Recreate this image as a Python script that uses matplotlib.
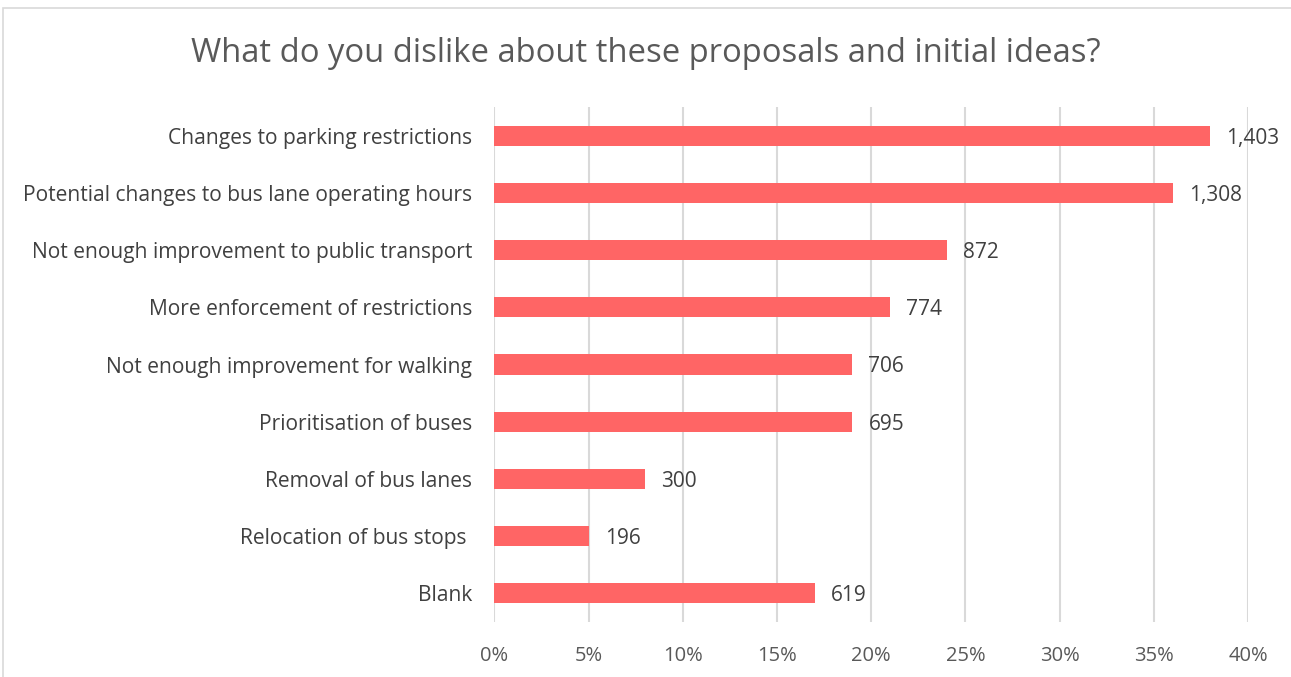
import matplotlib
matplotlib.use("Agg")
import matplotlib.pyplot as plt
from matplotlib.patches import Rectangle
from matplotlib.ticker import FuncFormatter

categories = [
    "Changes to parking restrictions",
    "Potential changes to bus lane operating hours",
    "Not enough improvement to public transport",
    "More enforcement of restrictions",
    "Not enough improvement for walking",
    "Prioritisation of buses",
    "Removal of bus lanes",
    "Relocation of bus stops ",
    "Blank",
]
percentages = [38, 36, 24, 21, 19, 19, 8, 5, 17]
counts = [1403, 1308, 872, 774, 706, 695, 300, 196, 619]
x_ticks = [0, 5, 10, 15, 20, 25, 30, 35, 40]

plt.rcParams['font.family'] = ['Open Sans', 'DejaVu Sans']

W, H = 1291, 677
fig = plt.figure(figsize=(W / 100, H / 100), dpi=100)
fig.patches.append(Rectangle((3 / W, -0.1), 1.2, 1 - 8 / H + 0.1, transform=fig.transFigure,
                             fill=False, edgecolor='#D9D9D9', linewidth=1.2))
ax = fig.add_axes([494.5 / W, 1 - 622 / H, (1248 - 494.5) / W, (622 - 107) / H])

ypos = list(range(len(categories)))
ax.barh(ypos, percentages, height=0.35, color='#FF6565', zorder=3)
for y, p, c in zip(ypos, percentages, counts):
    ax.text(p + 0.85, y, f"{c:,}", va='center_baseline', ha='left', fontsize=15, color='#404040')

ax.set_ylim(len(categories) - 0.5, -0.5)
ax.set_xlim(0, 40)
ax.set_yticks(ypos)
ax.set_yticklabels(categories, fontsize=15.1, color='#404040')
ax.set_xticks(x_ticks)
ax.xaxis.set_major_formatter(FuncFormatter(lambda v, _: f"{int(v)}%"))
ax.tick_params(axis='x', labelsize=14.5, labelcolor='#595959', length=0, pad=17)
ax.tick_params(axis='y', length=0, pad=16)
ax.grid(axis='x', color='#D9D9D9', linewidth=1.5, zorder=0)
for s in ax.spines.values():
    s.set_visible(False)

fig.text(0.5, 1 - 54 / H, "What do you dislike about these proposals and initial ideas?",
         ha='center', va='center', fontsize=23.6, color='#595959')

fig.savefig("out.png", dpi=100)
